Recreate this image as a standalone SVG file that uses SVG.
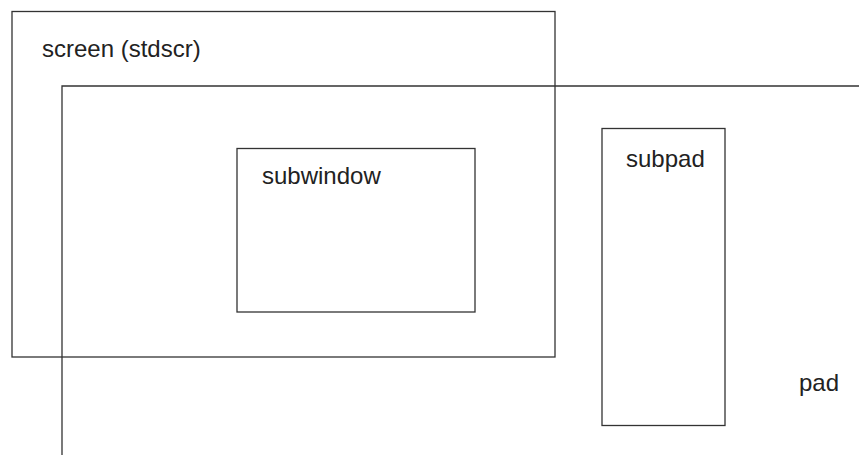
<svg xmlns="http://www.w3.org/2000/svg" width="859" height="455" viewBox="0 0 859 455">
<style>
.b{fill:none;stroke:#333;stroke-width:1.3}
text{font-family:"Liberation Sans",Arial,sans-serif;font-size:24px;fill:#222}
</style>
<rect x="0" y="0" width="859" height="455" fill="#fff"/>
<g id="screen">
<rect class="b" x="12" y="11.5" width="543" height="345.5"/>
<text x="42" y="57">screen (stdscr)</text>
</g>
<g id="pad">
<path class="b" d="M62 455V86H859"/>
<text x="799" y="391">pad</text>
</g>
<g id="subwindow">
<rect class="b" x="237" y="148.5" width="238" height="163.5"/>
<text x="262" y="184">subwindow</text>
</g>
<g id="subpad">
<rect class="b" x="602" y="128.5" width="123" height="297"/>
<text x="626" y="167">subpad</text>
</g>
<g id="connectors"/>
</svg>
